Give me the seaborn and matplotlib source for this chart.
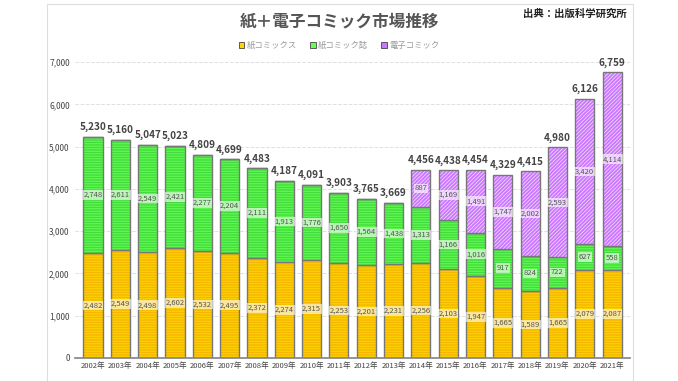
import numpy as np
import pandas as pd
import seaborn as sns
import matplotlib.pyplot as plt
from matplotlib.patches import Rectangle, Patch

years = [f'{y}年' for y in range(2002, 2022)]
paper_comics = [2482, 2549, 2498, 2602, 2532, 2495, 2372, 2274, 2315, 2253,
                2201, 2231, 2256, 2103, 1947, 1665, 1589, 1665, 2079, 2087]
paper_mags = [2748, 2611, 2549, 2421, 2277, 2204, 2111, 1913, 1776, 1650,
              1564, 1438, 1313, 1166, 1016, 917, 824, 722, 627, 558]
digital = [0, 0, 0, 0, 0, 0, 0, 0, 0, 0,
           0, 0, 887, 1169, 1491, 1747, 2002, 2593, 3420, 4114]
totals = [5230, 5160, 5047, 5023, 4809, 4699, 4483, 4187, 4091, 3903,
          3765, 3669, 4456, 4438, 4454, 4329, 4415, 4980, 6126, 6759]
series_names = ['紙コミックス', '紙コミック誌', '電子コミック']

sns.set_theme(style='white')
plt.rcParams['font.family'] = ['Noto Sans CJK JP', 'DejaVu Sans']
plt.rcParams['hatch.linewidth'] = 0.5

fig = plt.figure(figsize=(6.78, 3.81), dpi=100)
fig.patches.append(Rectangle((47 / 678, -0.01), 586 / 678, 1.0, transform=fig.transFigure,
                             fill=False, edgecolor='#dddddd', linewidth=0.8))
ax = fig.add_axes([0.111, 0.0604, 0.818, 0.7766])

df = pd.DataFrame({'year': years, 'comics': paper_comics, 'mags': paper_mags,
                   'digital': digital})
bottom_mags = np.array(paper_comics)
bottom_dig = bottom_mags + np.array(paper_mags)

# layers: fill colour + stripe colour via hatch
layers = [
    ('comics', None, '#ffd700', '#f0a800', '----------'),
    ('mags', bottom_mags, '#66ff55', '#33cc33', '----------'),
    ('digital', bottom_dig, '#cc77ff', '#f4e4ff', '/////////'),
]
for col, bottom, fc, hc, hatch in layers:
    kw = {} if bottom is None else {'bottom': bottom}
    sns.barplot(data=df, x='year', y=col, color=fc, saturation=1, width=0.7,
                edgecolor=hc, linewidth=0, hatch=hatch, ax=ax, **kw)
    sns.barplot(data=df, x='year', y=col, color='#777777', fill=False, width=0.7,
                linewidth=1.0, ax=ax, **kw)

# segment value labels
box = dict(boxstyle='square,pad=0.1', fc='white', ec='none', alpha=0.6)
for i in range(len(years)):
    segs = [(paper_comics[i], 0), (paper_mags[i], bottom_mags[i]),
            (digital[i], bottom_dig[i])]
    for val, b in segs:
        if val > 0:
            ax.text(i, b + val / 2, f'{val:,}', ha='center', va='center',
                    fontsize=5.5, color='#555555', bbox=box)
    ax.text(i, totals[i] + 110, f'{totals[i]:,}', ha='center', va='bottom',
            fontsize=7.2, fontweight='bold', color='#444444')

ax.set_ylim(0, 7000)
ax.set_xlim(-0.65, 19.65)
ax.set_yticks(range(0, 7001, 1000))
ax.set_yticklabels([f'{v:,}' for v in range(0, 7001, 1000)], fontsize=6, color='#444444')
ax.tick_params(axis='x', labelsize=5.5, colors='#444444', length=0, pad=3)
ax.tick_params(axis='y', length=0, pad=4)
ax.set_xlabel('')
ax.set_ylabel('')
ax.yaxis.grid(True, linestyle='--', color='#e0e0e0', linewidth=0.7)
ax.set_axisbelow(True)
for s in ['top', 'right', 'left']:
    ax.spines[s].set_visible(False)
ax.spines['bottom'].set_color('#888888')

fig.text(0.5, 0.945, '紙＋電子コミック市場推移', ha='center', va='center',
         fontsize=12, fontweight='bold', color='#555555')
fig.text(0.925, 0.965, '出典：出版科学研究所', ha='right', va='center',
         fontsize=7.5, fontweight='bold', color='#222222')

handles = [Patch(facecolor=c, edgecolor='#444444', linewidth=0.6)
           for c in ['#ffd700', '#66ff55', '#cc77ff']]
fig.legend(handles, series_names, loc='center', bbox_to_anchor=(0.5, 0.88), ncol=3,
           frameon=False, fontsize=6, labelcolor='#999999', handlelength=0.7,
           handleheight=0.7, handletextpad=0.3, columnspacing=1.5)

fig.savefig('out.png', dpi=100, facecolor='white')
